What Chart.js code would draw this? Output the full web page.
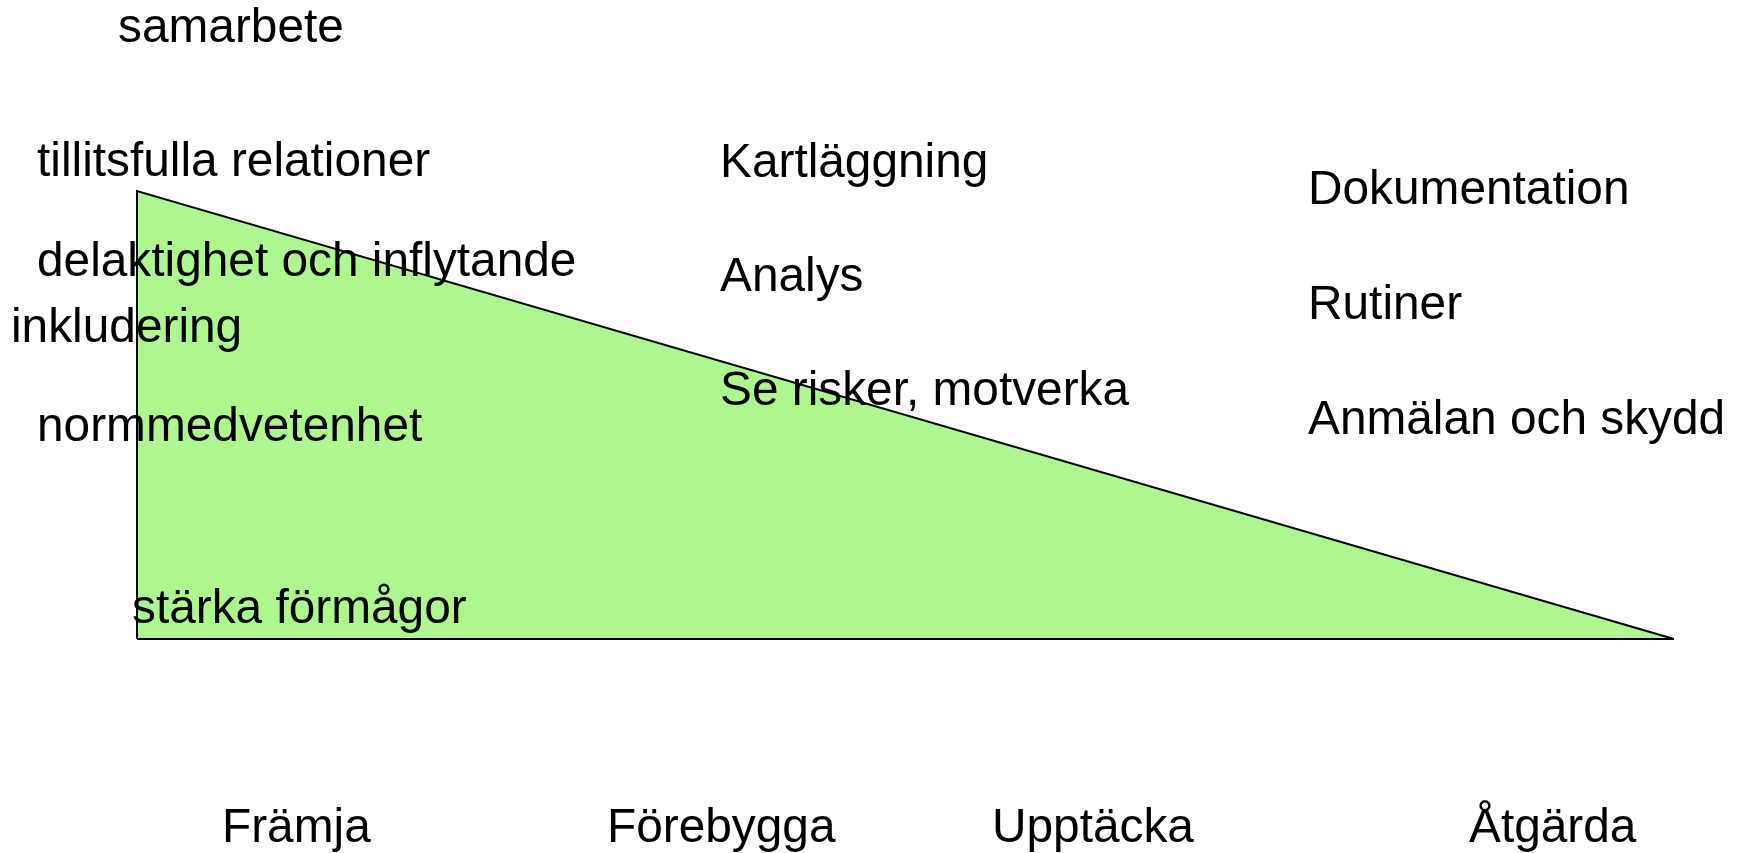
<!DOCTYPE html>
<html>
<head>
<meta charset="utf-8">
<script src="https://cdn.jsdelivr.net/npm/chart.js@4/dist/chart.umd.min.js"></script>
<style>
  html, body { margin: 0; padding: 0; background: #fff; }
  #wrap { width: 1742px; height: 853px; }
</style>
</head>
<body>
<div id="wrap"><canvas id="chart" width="1742" height="853"></canvas></div>
<script>
// Insatsnivå: hög vid främjande, avtar mot åtgärd
const effortX = [0, 0, 10]
const effortY = [0, 10, 0]
const baseX = [0, 10]
const baseY = [0, 0]

const stages = ['Främja', 'Förebygga', 'Upptäcka', 'Åtgärda']
const promoteWords = ['samarbete', 'tillitsfulla relationer', 'delaktighet och inflytande', 'inkludering', 'normmedvetenhet', 'stärka förmågor']
const preventWords = ['Kartläggning', 'Analys', 'Se risker, motverka']
const actWords = ['Dokumentation', 'Rutiner', 'Anmälan och skydd']

// placering (vänsterkant, baslinje) i px
const stagePos   = [[222, 842], [607, 842], [992, 842], [1469, 842]]
const promotePos = [[118, 42], [37, 176], [37, 276], [11, 342], [37, 441], [132, 623]]
const preventPos = [[720, 177], [720, 291], [720, 405]]
const actPos     = [[1308, 204], [1308, 319], [1308, 434]]

const textPlugin = {
  id: 'textLabels',
  afterDatasetsDraw(chart) {
    const ctx = chart.ctx
    ctx.save()
    ctx.font = '47.8px "Liberation Sans", Arial, sans-serif'
    ctx.fillStyle = '#000'
    ctx.textAlign = 'left'
    ctx.textBaseline = 'alphabetic'
    const groups = [[stages, stagePos], [promoteWords, promotePos], [preventWords, preventPos], [actWords, actPos]]
    for (const [words, pos] of groups) {
      words.forEach((w, i) => ctx.fillText(w, pos[i][0], pos[i][1]))
    }
    ctx.restore()
  },
}

new Chart(document.getElementById('chart'), {
  type: 'line',
  data: {
    datasets: [
      {
        data: effortX.map((x, i) => ({ x, y: effortY[i] })),
        backgroundColor: '#aef78f',
        borderColor: '#000',
        borderWidth: 2,
        fill: 'origin',
        tension: 0,
        pointRadius: 0,
        clip: false,
        order: 1,
      },
      {
        data: baseX.map((x, i) => ({ x, y: baseY[i] })),
        borderColor: '#000',
        borderWidth: 2,
        fill: false,
        pointRadius: 0,
        clip: false,
        order: 0,
      },
    ],
  },
  options: {
    responsive: false,
    animation: false,
    devicePixelRatio: 1,
    layout: { padding: { left: 137, right: 68, top: 191, bottom: 214 } },
    scales: {
      x: { type: 'linear', min: 0, max: 10, display: false },
      y: { min: 0, max: 10, display: false },
    },
    plugins: {
      legend: { display: false },
      tooltip: { enabled: false },
    },
  },
  plugins: [textPlugin],
})
</script>
</body>
</html>
